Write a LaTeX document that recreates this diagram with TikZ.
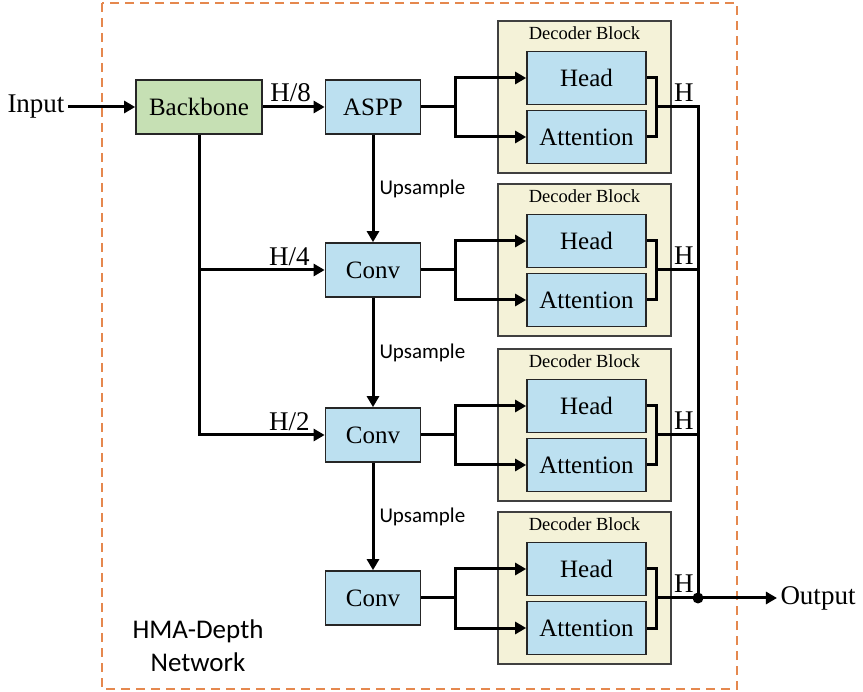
\documentclass[tikz,border=0pt]{standalone}
\usepackage{fontspec}
\setmainfont{Liberation Serif}
\newfontfamily\calibfont{Carlito}
\usetikzlibrary{arrows.meta}

\definecolor{bbgreen}{HTML}{C6E0B4}
\definecolor{modblue}{HTML}{BCE0F0}
\definecolor{deccream}{HTML}{F4F2D8}
\definecolor{frameorange}{HTML}{E5884E}

\tikzset{
  box/.style={draw=black!85, line width=1.7pt, minimum height=54pt, font=\fontsize{25}{30}\selectfont},
  encbox/.style={box, fill=modblue, minimum width=95pt},
  subbox/.style={box, fill=modblue, minimum width=119pt, minimum height=53pt},
  decbox/.style={draw=black!75, line width=1.4pt, fill=deccream, minimum width=173pt, minimum height=152pt},
  conn/.style={line width=3pt},
  arr/.style={conn, -{Triangle[length=11pt,width=12pt]}},
  lbl/.style={font=\fontsize{27}{32}\selectfont},
  sanslbl/.style={font=\calibfont\fontsize{21}{25}\selectfont},
}

\begin{document}
\begin{tikzpicture}[x=1pt,y=-1pt]
  \useasboundingbox (0,0) rectangle (863,692);
  % Network frame
  \draw[frameorange, line width=2.7pt, dash pattern=on 9pt off 6pt] (102,3) rectangle (737,689);
  \node[font=\calibfont\fontsize{27}{33}\selectfont, align=center] (netname) at (198,646) {HMA-Depth\\Network};

  % Encoder side
  \node[lbl] (input) at (36,107) {Input};
  \node[box, fill=bbgreen, minimum width=126pt] (backbone) at (199,107) {Backbone};
  \node[encbox] (aspp) at (373,107) {ASPP};
  \node[encbox] (conv2) at (373,270) {Conv};
  \node[encbox] (conv3) at (373,435) {Conv};
  \node[encbox] (conv4) at (373,598) {Conv};
  \node[lbl] (output) at (818,598) {Output};

  \draw[arr] (input) -- (backbone);
  \draw[arr] (backbone) -- (aspp) node[pos=.45, above, lbl, inner sep=4pt] {H/8};
  \coordinate (tap2) at (backbone.south |- conv2.west);
  \draw[arr] (tap2) -- (conv2.west) node[pos=.72, above, lbl, inner sep=3pt] {H/4};
  \draw[arr] (backbone.south) |- (conv3.west) node[pos=.86, above, lbl, inner sep=3pt] {H/2};

  % Upsample path
  \draw[arr] (aspp) -- (conv2) node[midway, right, sanslbl, inner sep=5pt] {Upsample};
  \draw[arr] (conv2) -- (conv3) node[midway, right, sanslbl, inner sep=5pt] {Upsample};
  \draw[arr] (conv3) -- (conv4) node[midway, right, sanslbl, inner sep=5pt] {Upsample};

  % Decoder blocks
  \foreach \enc/\cy/\k in {aspp/107/1,conv2/270/2,conv3/435/3,conv4/598/4}{
    \node[decbox] (dec\k) at (584.5,\cy-10) {};
    \node[font=\fontsize{18.5}{22}\selectfont] (dectitle\k) at (584.5,\cy-74) {Decoder Block};
    \node[subbox] (head\k) at (586.5,\cy-29) {Head};
    \node[subbox] (att\k) at (586.5,\cy+30) {Attention};
    \coordinate (fork\k) at (455,\cy);
    \coordinate (br\k) at (656,\cy);
    \coordinate (bus\k) at (698,\cy);
    \draw[conn] (\enc.east) -- (fork\k);
    \draw[arr] (fork\k) |- (head\k.west);
    \draw[arr] (fork\k) |- (att\k.west);
    \draw[conn] (head\k.east) -| (br\k) |- (att\k.east);
    \draw[conn] (br\k) -- (bus\k) node[at end, anchor=south east, lbl, inner xsep=3pt, inner ysep=4pt] {H};
  }

  % Output bus
  \draw[conn, line cap=rect] (bus1) -- (bus4);
  \fill (bus4) circle (5.5pt);
  \draw[arr] (bus4) -- (output);
\end{tikzpicture}
\end{document}
